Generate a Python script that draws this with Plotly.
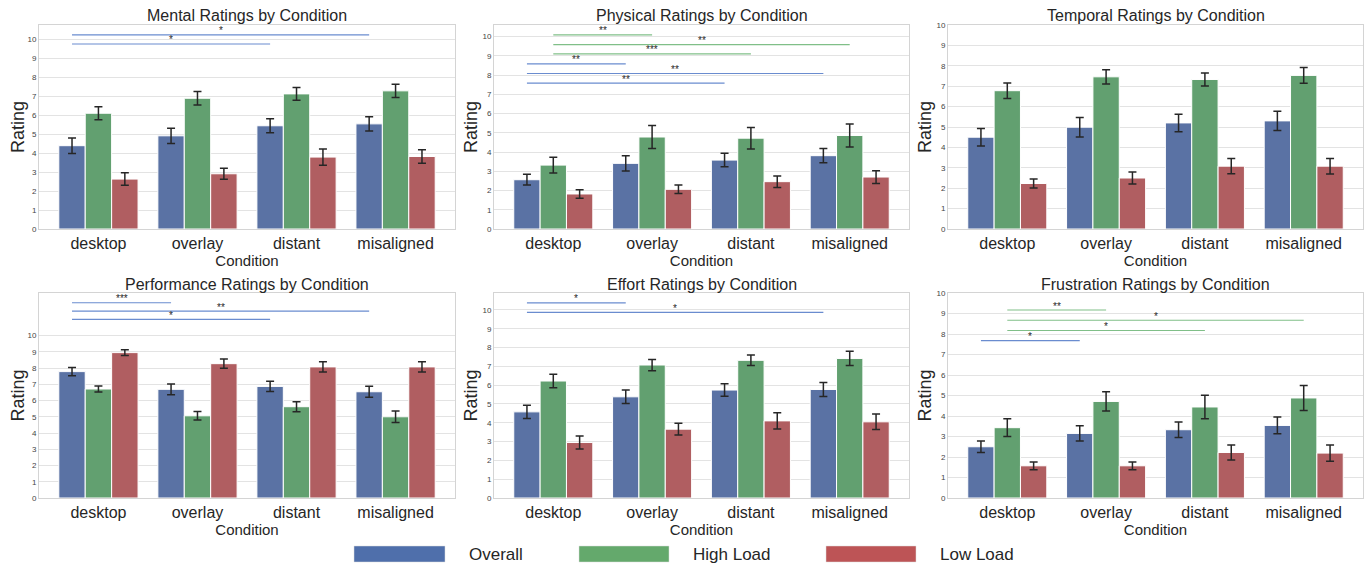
import plotly.graph_objects as go

categories = ["desktop", "overlay", "distant", "misaligned"]
groups = ["Overall", "High Load", "Low Load"]

titles = ["Mental Ratings by Condition", "Physical Ratings by Condition", "Temporal Ratings by Condition",
          "Performance Ratings by Condition", "Effort Ratings by Condition", "Frustration Ratings by Condition"]

# means per panel: [Overall, High Load, Low Load], each over categories
mental_mean = [[4.39, 4.91, 5.44, 5.54], [6.10, 6.89, 7.12, 7.28], [2.63, 2.91, 3.79, 3.82]]
mental_err = [[0.41, 0.40, 0.37, 0.38], [0.34, 0.36, 0.34, 0.35], [0.33, 0.29, 0.43, 0.36]]
physical_mean = [[2.56, 3.41, 3.58, 3.81], [3.32, 4.78, 4.72, 4.86], [1.82, 2.06, 2.46, 2.70]]
physical_err = [[0.28, 0.39, 0.35, 0.37], [0.41, 0.60, 0.56, 0.60], [0.22, 0.22, 0.30, 0.33]]
temporal_mean = [[4.50, 4.99, 5.20, 5.30], [6.78, 7.46, 7.33, 7.53], [2.23, 2.50, 3.08, 3.08]]
temporal_err = [[0.43, 0.48, 0.43, 0.47], [0.38, 0.35, 0.32, 0.39], [0.22, 0.29, 0.37, 0.38]]
performance_mean = [[7.78, 6.69, 6.87, 6.54], [6.71, 5.06, 5.62, 5.00], [8.95, 8.27, 8.07, 8.07]]
performance_err = [[0.25, 0.33, 0.31, 0.34], [0.18, 0.26, 0.31, 0.35], [0.17, 0.28, 0.31, 0.31]]
effort_mean = [[4.58, 5.38, 5.74, 5.77], [6.22, 7.07, 7.32, 7.42], [2.95, 3.66, 4.10, 4.05]]
effort_err = [[0.35, 0.36, 0.33, 0.37], [0.36, 0.30, 0.28, 0.38], [0.35, 0.31, 0.43, 0.41]]
frustration_mean = [[2.50, 3.15, 3.33, 3.54], [3.43, 4.71, 4.44, 4.88], [1.57, 1.57, 2.22, 2.19]]
frustration_err = [[0.28, 0.37, 0.38, 0.41], [0.43, 0.47, 0.57, 0.61], [0.19, 0.19, 0.37, 0.40]]

panel_means = [mental_mean, physical_mean, temporal_mean, performance_mean, effort_mean, frustration_mean]
panel_errs = [mental_err, physical_err, temporal_err, performance_err, effort_err, frustration_err]
y_max = [10.75, 10.6, 10.0, 12.62, 10.9, 10.0]

# significance brackets: (group index, from category, to category, y level, label)
mental_sig = [(0, 0, 3, 10.23, "*"), (0, 0, 2, 9.75, "*")]
physical_sig = [(1, 0, 1, 10.09, "**"), (1, 0, 3, 9.58, "**"), (1, 0, 2, 9.10, "***"),
                (0, 0, 1, 8.58, "**"), (0, 0, 3, 8.08, "**"), (0, 0, 2, 7.58, "**")]
temporal_sig = []
performance_sig = [(0, 0, 1, 12.02, "***"), (0, 0, 3, 11.50, "**"), (0, 0, 2, 11.00, "*")]
effort_sig = [(0, 0, 1, 10.37, "*"), (0, 0, 3, 9.87, "*")]
frustration_sig = [(1, 0, 1, 9.17, "**"), (1, 0, 3, 8.67, "*"), (1, 0, 2, 8.17, "*"), (0, 0, 1, 7.68, "*")]
panel_sigs = [mental_sig, physical_sig, temporal_sig, performance_sig, effort_sig, frustration_sig]

bar_colors = ["#5a72a4", "#62a070", "#b05e61"]
legend_colors = ["#4f6fab", "#64a96c", "#bd5456"]
sig_colors = ["#6a8ccf", "#80bf88"]

# page body has an 8px margin: figure is sized to fill the remaining window
OFF = 8
W, H = 1372 - OFF, 567 - OFF
col_x = [(39, 455), (494, 909), (948, 1363)]
row_y = [(25, 229), (293, 498)]


def px(x):
    return (x - OFF) / W


def py(y):
    return 1 - (y - OFF) / H


font_family = "Liberation Sans, Arial, sans-serif"
fig = go.Figure()
layout = dict(
    width=W, height=H, margin=dict(l=0, r=0, t=0, b=0, autoexpand=False),
    paper_bgcolor="white", plot_bgcolor="white", showlegend=False,
    barmode="group", bargap=0.2, bargroupgap=0.0,
    font=dict(family=font_family, color="#262626"),
)
annotations = []
shapes = []
offsets = [-0.8 / 3, 0.0, 0.8 / 3]

for p in range(6):
    r, c = divmod(p, 3)
    idx = "" if p == 0 else str(p + 1)
    xa, ya = "x" + idx, "y" + idx
    for g in range(3):
        fig.add_trace(go.Bar(
            x=list(range(len(categories))), y=panel_means[p][g], name=groups[g],
            marker=dict(color=bar_colors[g], line=dict(color="white", width=1)),
            error_y=dict(type="data", array=panel_errs[p][g], color="#262626", thickness=1.5, width=4),
            xaxis=xa, yaxis=ya, offsetgroup=str(g), showlegend=False,
        ))
    x0, x1 = col_x[c]
    y0, y1 = row_y[r]
    layout["xaxis" + idx] = dict(
        domain=[px(x0), px(x1)], anchor=ya, range=[-0.6, 3.6], automargin=False,
        tickvals=list(range(len(categories))), ticktext=categories,
        tickfont=dict(size=16, color="#262626"), showgrid=False, zeroline=False,
        showline=True, linecolor="#d4d4d4", linewidth=1, mirror=True, ticks="",
        title=dict(text="Condition", font=dict(size=15, color="#262626"), standoff=0),
    )
    layout["yaxis" + idx] = dict(
        domain=[py(y1), py(y0)], anchor=xa, range=[0, y_max[p]], automargin=False,
        tickvals=list(range(11)), tickfont=dict(size=8, color="#444444"),
        showgrid=True, gridcolor="#e3e3e3", gridwidth=1, zeroline=False,
        showline=True, linecolor="#d4d4d4", linewidth=1, mirror=True, ticks="",
        title=dict(text="Rating", font=dict(size=18, color="#262626"), standoff=0),
    )
    annotations.append(dict(
        text=titles[p], x=(px(x0) + px(x1)) / 2, y=py(y0 - 9), xref="paper", yref="paper",
        showarrow=False, xanchor="center", yanchor="middle", font=dict(size=16, color="#262626"),
    ))
    for (g, a, b, yv, lab) in panel_sigs[p]:
        xs, xe = a + offsets[g], b + offsets[g]
        shapes.append(dict(type="line", xref=xa, yref=ya, x0=xs, x1=xe, y0=yv, y1=yv,
                           line=dict(color=sig_colors[g], width=1.2)))
        annotations.append(dict(text=lab, x=(xs + xe) / 2, y=yv, xref=xa, yref=ya, showarrow=False,
                                xanchor="center", yanchor="middle", yshift=4,
                                font=dict(size=10, color="#262626")))

# legend drawn below the panels
leg_boxes = [(354, 445), (579, 669), (826, 916)]
for g in range(3):
    a, b = leg_boxes[g]
    shapes.append(dict(type="rect", xref="paper", yref="paper", x0=px(a), x1=px(b),
                       y0=py(562), y1=py(546), fillcolor=legend_colors[g],
                       line=dict(color="#dddddd", width=0.5)))
    annotations.append(dict(text=groups[g], x=px(b + 22), y=py(554), xref="paper", yref="paper",
                            showarrow=False, xanchor="left", yanchor="middle",
                            font=dict(size=17, color="#262626")))

layout["annotations"] = annotations
layout["shapes"] = shapes
fig.update_layout(**layout)
fig.write_html("out.html")
